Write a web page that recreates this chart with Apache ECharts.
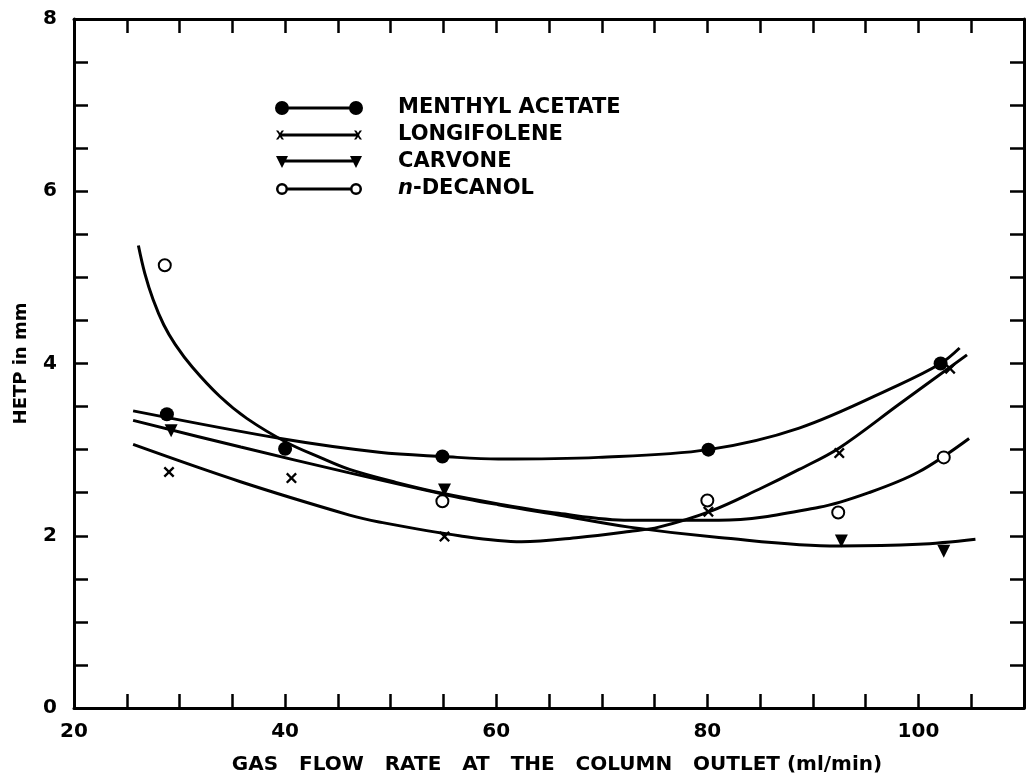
<!DOCTYPE html>
<html>
<head>
<meta charset="utf-8">
<script src="https://cdn.jsdelivr.net/npm/echarts@6/dist/echarts.min.js"></script>
<style>
html,body{margin:0;padding:0;background:#fff;}
#chart{width:1027px;height:780px;}
</style>
</head>
<body>
<div id="chart"></div>
<script>
// ---- data ----
const seriesNames = ['MENTHYL ACETATE', 'LONGIFOLENE', 'CARVONE', 'n-DECANOL'];

// measured points
const menthylX = [28.8, 40.0, 54.9, 80.1, 102.1];
const menthylY = [3.41, 3.01, 2.92, 3.00, 4.00];
const longifoleneX = [29.0, 40.6, 55.1, 80.1, 92.5, 103.0];
const longifoleneY = [2.74, 2.67, 1.99, 2.28, 2.96, 3.94];
const carvoneX = [29.2, 55.1, 92.7, 102.4];
const carvoneY = [3.22, 2.53, 1.94, 1.82];
const decanolX = [28.6, 54.9, 80.0, 92.4, 102.4];
const decanolY = [5.14, 2.40, 2.41, 2.27, 2.91];

// hand-drawn fitted curves
const menthylFitX = [25.6, 40.0, 48.9, 55.0, 60.2, 69.7, 80.1, 88.7, 98.1, 102.1, 103.9];
const menthylFitY = [3.45, 3.12, 2.97, 2.92, 2.89, 2.91, 3.00, 3.25, 3.75, 4.00, 4.18];
const longifoleneFitX = [25.6, 35.7, 46.1, 48.9, 56.5, 62.4, 67.8, 72.6, 75.4, 80.2, 84.9, 88.7, 92.5, 98.2, 104.6];
const longifoleneFitY = [3.06, 2.63, 2.24, 2.16, 2.00, 1.93, 1.98, 2.05, 2.10, 2.28, 2.54, 2.77, 3.02, 3.53, 4.10];
const carvoneFitX = [25.6, 35.8, 46.1, 55.1, 60.2, 65.9, 72.6, 81.1, 92.4, 100.0, 105.4];
const carvoneFitY = [3.34, 3.03, 2.73, 2.48, 2.36, 2.24, 2.10, 1.98, 1.88, 1.90, 1.96];
const decanolFitX = [26.1, 26.7, 27.5, 28.5, 29.6, 31.2, 33.8, 36.4, 40.2, 43.3, 46.1, 50.5, 55.0, 60.2, 65.9, 72.6, 81.1, 90.6, 95.3, 100.0, 104.8];
const decanolFitY = [5.37, 5.05, 4.74, 4.45, 4.22, 3.96, 3.62, 3.36, 3.08, 2.91, 2.77, 2.62, 2.49, 2.37, 2.26, 2.18, 2.18, 2.33, 2.50, 2.74, 3.13];

// axes
const xMin = 20, xMax = 110, xStep = 5;
const yMin = 0, yMax = 8, yStep = 0.5;
const xLabelValues = [20, 40, 60, 80, 100];
const yLabelValues = [0, 2, 4, 6, 8];
const xAxisTitle = 'GAS   FLOW   RATE   AT   THE   COLUMN   OUTLET (ml/min)';
const yAxisTitle = 'HETP in mm';

// ---- build ----
const zip = (xs, ys) => xs.map((x, i) => [x, ys[i]]);
const FONT = 'DejaVu Sans';
const INK = '#000';

const crossPath = 'path://M1.5,0L5,3.5L8.5,0L10,1.5L6.5,5L10,8.5L8.5,10L5,6.5L1.5,10L0,8.5L3.5,5L0,1.5Z';
const corners = ' M0,0L0.02,0L0,0.02Z M88,14L87.98,14L88,13.98Z';
const iconMenthyl = 'path://M0,7A7,7 0 1,1 14,7A7,7 0 1,1 0,7Z M74,7A7,7 0 1,1 88,7A7,7 0 1,1 74,7Z M7,5.5L81,5.5L81,8.5L7,8.5Z';
const iconLongi = 'path://M1,2.5L3.2,2.5L5,5L6.8,2.5L9,2.5L6.3,6.2L6.3,7.8L9,11.5L6.8,11.5L5,9L3.2,11.5L1,11.5L3.7,7.8L3.7,6.2Z M79,2.5L81.2,2.5L83,5L84.8,2.5L87,2.5L84.3,6.2L84.3,7.8L87,11.5L84.8,11.5L83,9L81.2,11.5L79,11.5L81.7,7.8L81.7,6.2Z M5,5.5L83,5.5L83,8.5L5,8.5Z' + corners;
const iconCarv = 'path://M1,1L13,1L7,13Z M75,1L87,1L81,13Z M7,4.5L81,4.5L81,7.5L7,7.5Z' + corners;
const iconDec = 'path://M1,7A6,6 0 1,1 13,7A6,6 0 1,1 1,7Z M3.5,7A3.5,3.5 0 1,0 10.5,7A3.5,3.5 0 1,0 3.5,7Z M75,7A6,6 0 1,1 87,7A6,6 0 1,1 75,7Z M77.5,7A3.5,3.5 0 1,0 84.5,7A3.5,3.5 0 1,0 77.5,7Z M12.5,5.5L75.5,5.5L75.5,8.5L12.5,8.5Z' + corners;

const axisLineStyle = { color: INK, width: 3 };
const tickCommon = { show: true, inside: true, length: 14, lineStyle: { color: INK, width: 2.5 } };
const labelFont = { fontFamily: FONT, fontWeight: 'bold', fontSize: 20, color: INK };

const lineSeries = (name, xs, ys) => ({
  name: name + ' fit', type: 'line', smooth: 0.35, symbol: 'none', showSymbol: false,
  data: zip(xs, ys), lineStyle: { color: INK, width: 3 }, itemStyle: { color: INK },
  z: 2, silent: true
});

const legendItemStyle = { color: INK, borderWidth: 0, opacity: 1 };

const option = {
  animation: false,
  backgroundColor: '#fff',
  grid: { left: 74, right: 2, top: 19, bottom: 58, containLabel: false },
  legend: {
    orient: 'vertical', left: 270, top: 92,
    itemWidth: 88, itemHeight: 14, itemGap: 5,
    symbolKeepAspect: false,
    selectedMode: false,
    textStyle: { fontFamily: FONT, fontWeight: 'bold', fontSize: 21, color: INK, padding: [0, 0, 0, 30], lineHeight: 22,
      rich: { i: { fontFamily: FONT, fontWeight: 'bold', fontStyle: 'italic', fontSize: 21, color: INK } } },
    formatter: n => n === 'n-DECANOL' ? '{i|n}-DECANOL' : n,
    data: [
      { name: seriesNames[0], icon: iconMenthyl, itemStyle: legendItemStyle },
      { name: seriesNames[1], icon: iconLongi, itemStyle: legendItemStyle },
      { name: seriesNames[2], icon: iconCarv, itemStyle: legendItemStyle },
      { name: seriesNames[3], icon: iconDec, itemStyle: legendItemStyle }
    ]
  },
  xAxis: [
    {
      type: 'value', min: xMin, max: xMax, interval: xStep, position: 'bottom',
      axisLine: { show: true, onZero: false, lineStyle: axisLineStyle },
      axisTick: tickCommon,
      splitLine: { show: false },
      axisLabel: Object.assign({ margin: 14, showMaxLabel: true,
        formatter: v => xLabelValues.includes(v) ? String(v) : '' }, labelFont),
      name: xAxisTitle, nameLocation: 'middle', nameGap: 47,
      nameTextStyle: { fontFamily: FONT, fontWeight: 'bold', fontSize: 20, color: INK, padding: [0, 0, 0, 16] }
    },
    {
      type: 'value', min: xMin, max: xMax, interval: xStep, position: 'top',
      axisLine: { show: true, onZero: false, lineStyle: axisLineStyle },
      axisTick: tickCommon, axisLabel: { show: false }, splitLine: { show: false }
    }
  ],
  yAxis: [
    {
      type: 'value', min: yMin, max: yMax, interval: yStep, position: 'left',
      axisLine: { show: true, onZero: false, lineStyle: axisLineStyle },
      axisTick: tickCommon,
      splitLine: { show: false },
      axisLabel: Object.assign({ margin: 17,
        formatter: v => yLabelValues.includes(v) ? String(v) : '' }, labelFont),
      name: yAxisTitle, nameLocation: 'middle', nameGap: 44, nameRotate: 90,
      nameTextStyle: { fontFamily: FONT, fontWeight: 'bold', fontSize: 18, color: INK }
    },
    {
      type: 'value', min: yMin, max: yMax, interval: yStep, position: 'right',
      axisLine: { show: true, onZero: false, lineStyle: axisLineStyle },
      axisTick: tickCommon, axisLabel: { show: false }, splitLine: { show: false }
    }
  ],
  series: [
    lineSeries(seriesNames[0], menthylFitX, menthylFitY),
    lineSeries(seriesNames[1], longifoleneFitX, longifoleneFitY),
    lineSeries(seriesNames[2], carvoneFitX, carvoneFitY),
    lineSeries(seriesNames[3], decanolFitX, decanolFitY),
    { name: seriesNames[0], type: 'scatter', data: zip(menthylX, menthylY), symbol: 'circle', symbolSize: 14,
      itemStyle: { color: INK, opacity: 1 }, z: 5 },
    { name: seriesNames[1], type: 'scatter', data: zip(longifoleneX, longifoleneY), symbol: crossPath, symbolSize: 11,
      itemStyle: { color: INK, opacity: 1 }, z: 5 },
    { name: seriesNames[2], type: 'scatter', data: zip(carvoneX, carvoneY), symbol: 'triangle', symbolRotate: 180, symbolSize: 13,
      itemStyle: { color: INK, opacity: 1 }, z: 5 },
    { name: seriesNames[3], type: 'scatter', data: zip(decanolX, decanolY), symbol: 'emptyCircle', symbolSize: 12,
      itemStyle: { color: INK, borderColor: INK, borderWidth: 2.5, opacity: 1 }, z: 5 }
  ]
};

const chart = echarts.init(document.getElementById('chart'), null, { renderer: 'canvas' });
chart.setOption(option);
</script>
</body>
</html>
